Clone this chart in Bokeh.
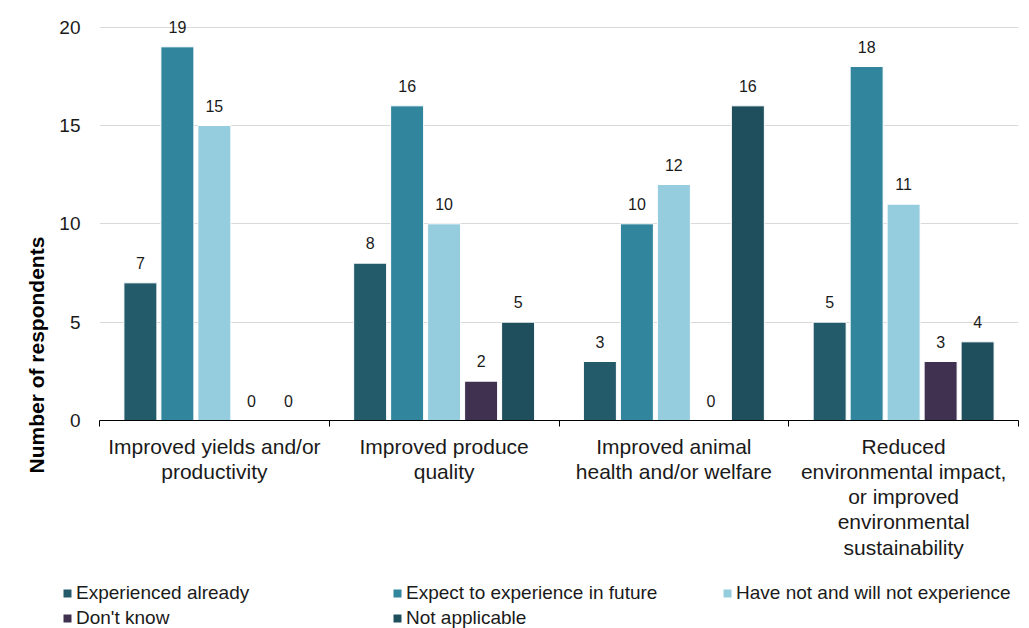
from bokeh.plotting import figure
from bokeh.layouts import column, row
from bokeh.models import (ColumnDataSource, Range1d, FixedTicker, LabelSet, Title,
                          Legend, LegendItem)
from bokeh.core.properties import value
from bokeh.embed import file_html
from bokeh.resources import INLINE

# Survey results: benefits experienced, by category
categories = [
    "Improved yields and/or\nproductivity",
    "Improved produce\nquality",
    "Improved animal\nhealth and/or welfare",
    "Reduced\nenvironmental impact,\nor improved\nenvironmental\nsustainability",
]
series_names = [
    "Experienced already",
    "Expect to experience in future",
    "Have not and will not experience",
    "Don't know",
    "Not applicable",
]
experienced_already = [7, 8, 3, 5]
expect_in_future = [19, 16, 10, 18]
have_not_will_not = [15, 10, 12, 11]
dont_know = [0, 2, 0, 3]
not_applicable = [0, 5, 16, 4]
y_ticks = [0, 5, 10, 15, 20]

series_values = [experienced_already, expect_in_future, have_not_will_not,
                 dont_know, not_applicable]
colors = ["#235B6A", "#31859D", "#95CCDE", "#413151", "#1F4E5D"]

FONT = "Liberation Sans"
TEXT = "#1a1a1a"

p = figure(width=1029, height=570, output_backend="svg", toolbar_location=None,
           x_range=Range1d(0, len(categories)), y_range=Range1d(0, 21),
           min_border_left=99, min_border_right=11, min_border_top=7,
           min_border_bottom=150)
p.outline_line_color = None
p.background_fill_color = "white"
p.border_fill_color = "white"

bar_w = 0.1436
step = 0.161
centers = [i + 0.5 for i in range(len(categories))]

for k, (name, vals, col) in enumerate(zip(series_names, series_values, colors)):
    off = (k - 2) * step
    src = ColumnDataSource(dict(x=[c + off for c in centers], top=vals,
                                lbl=[str(v) for v in vals]))
    p.vbar(x="x", top="top", bottom=0, width=bar_w, source=src,
           fill_color=col, line_color="white", line_width=1)
    p.add_layout(LabelSet(x="x", y="top", text="lbl", source=src,
                          text_align="center", text_baseline="middle",
                          y_offset=20, text_font=value(FONT),
                          text_font_size=value("16px"),
                          text_color=value(TEXT)))

# y axis
p.yaxis.ticker = FixedTicker(ticks=y_ticks)
p.yaxis.axis_line_color = None
p.yaxis.major_tick_line_color = None
p.yaxis.minor_tick_line_color = None
p.yaxis.major_label_standoff = 13
p.yaxis.major_label_text_font = FONT
p.yaxis.major_label_text_font_size = "19px"
p.yaxis.major_label_text_color = TEXT
p.ygrid.grid_line_color = "#D9D9D9"
p.ygrid.grid_line_width = 1
p.xgrid.grid_line_color = None

# x axis: labels at group centres, tick marks at group boundaries
p.xaxis.ticker = FixedTicker(ticks=centers,
                             minor_ticks=list(range(len(categories) + 1)))
p.xaxis.major_label_overrides = {c: lab for c, lab in zip(centers, categories)}
p.xaxis.axis_line_color = "black"
p.xaxis.axis_line_width = 1
p.xaxis.major_tick_line_color = None
p.xaxis.minor_tick_line_color = "black"
p.xaxis.minor_tick_out = 6
p.xaxis.minor_tick_in = 0
p.xaxis.major_label_standoff = 8
p.xaxis.major_label_text_font = FONT
p.xaxis.major_label_text_font_size = "21px"
p.xaxis.major_label_text_color = TEXT
p.xaxis.major_label_text_line_height = 1.1

# y axis title
p.add_layout(Title(text="Number of respondents", align="left", offset=-53,
                   text_font=FONT, text_font_size="21px",
                   text_font_style="bold", text_color="black",
                   standoff=18), "left")

# legend strip underneath the chart; its key bars sit outside the visible range
leg = figure(width=1029, height=58, output_backend="svg", toolbar_location=None,
             x_range=Range1d(0, 1), y_range=Range1d(0, 1),
             x_axis_location=None, y_axis_location=None,
             min_border_left=0, min_border_right=0, min_border_top=0,
             min_border_bottom=0)
leg.grid.visible = False
leg.outline_line_color = None
keys = [leg.vbar(x=[-5], top=[-5], bottom=-6, width=1, fill_color=c,
                 line_color=None) for c in colors]
legend = Legend(items=[LegendItem(label=n, renderers=[r])
                       for n, r in zip(series_names, keys)],
                ncols=3, orientation="horizontal", location=(62, -1),
                glyph_width=10, glyph_height=10, label_width=313,
                label_height=19, label_standoff=4, spacing=3, padding=0,
                margin=0, border_line_color=None, background_fill_alpha=0,
                label_text_font=FONT, label_text_font_size="19px",
                label_text_color=TEXT)
leg.add_layout(legend, "center")

open("out.html", "w").write(file_html(column(p, row(leg)), INLINE))
